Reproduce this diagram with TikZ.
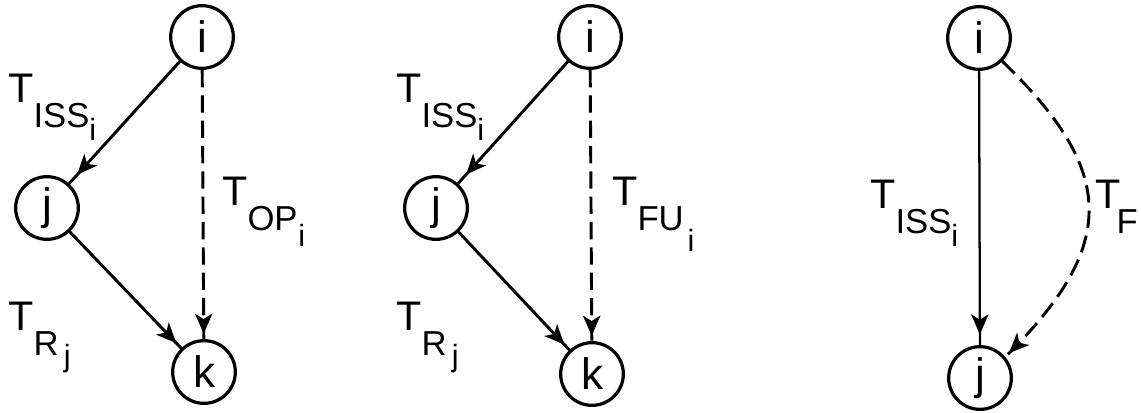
\documentclass[tikz,border=0pt]{standalone}
\usepackage{fontspec}
\setmainfont{Liberation Sans}
\usetikzlibrary{arrows.meta,decorations.markings}
\newcommand\fT{\fontsize{31pt}{31pt}\selectfont}
\newcommand\fS{\fontsize{26pt}{26pt}\selectfont}
\newcommand\fI{\fontsize{23pt}{23pt}\selectfont}
\newcommand\fN{\fontsize{33pt}{33pt}\selectfont}
% #1 subscript, #2 sub-subscript, #3 kern before #2, #4 lowering of #2
\newcommand\Tlab[4]{{\fT T}\raisebox{-19pt}{\fS #1}\kern#3\raisebox{#4}{\fI #2}}
\begin{document}
\begin{tikzpicture}[x=0.75pt,y=-0.75pt,
  vtx/.style={draw,circle,line width=2.4pt,minimum size=47pt,inner sep=0pt,font=\fN},
  lab/.style={anchor=base west,inner sep=0pt},
  arr/.style={line width=2.2pt,postaction={decorate},
    decoration={markings,mark=at position #1 with {\arrow{Stealth[length=15pt,width=13pt,inset=4pt]}}}},
  dsh/.style={dash pattern=on 13pt off 6pt},
]
\useasboundingbox (0,0) rectangle (1141,412);
% panel 1
\node[vtx] (i1) at (202,37) {i};
\node[vtx] (j1) at (47,208) {j};
\node[vtx] (k1) at (204,372) {k};
\draw[arr=-9pt] (i1) -- (j1);
\draw[arr=-5pt] (j1) -- (k1);
\draw[arr=-4pt,dsh] (i1) -- (k1);
\node[lab] (l1a) at (8,102) {\Tlab{ISS}{i}{0pt}{-28.5pt}};
\node[lab] (l1b) at (222,205) {\Tlab{OP}{i}{0.5pt}{-30.75pt}};
\node[lab] (l1c) at (8,330) {\Tlab{R}{j}{4pt}{-27pt}};
% panel 2
\node[vtx] (i2) at (590,37) {i};
\node[vtx] (j2) at (436,208) {j};
\node[vtx] (k2) at (592,374) {k};
\draw[arr=-9pt] (i2) -- (j2);
\draw[arr=-5pt] (j2) -- (k2);
\draw[arr=-4pt,dsh] (i2) -- (k2);
\node[lab] (l2a) at (396,102) {\Tlab{ISS}{i}{0pt}{-28.5pt}};
\node[lab] (l2b) at (612,205) {\Tlab{FU}{i}{3pt}{-34.5pt}};
\node[lab] (l2c) at (396,330) {\Tlab{R}{j}{4pt}{-27pt}};
% panel 3
\node[vtx] (i3) at (979,38) {i};
\node[vtx] (j3) at (980,378) {j};
\draw[arr=-8pt,line width=1.7pt] (i3) -- (j3);
\draw[arr=-4pt,dsh] (i3.-45) .. controls (1115,170) and (1120,244) .. (j3.40);
\node[lab] (l3a) at (870,208) {\Tlab{ISS}{i}{0pt}{-28.5pt}};
\node[lab] (l3b) at (1095,208) {{\fT T}\kern-3pt\raisebox{-19pt}{\fS F}};
\end{tikzpicture}
\end{document}
